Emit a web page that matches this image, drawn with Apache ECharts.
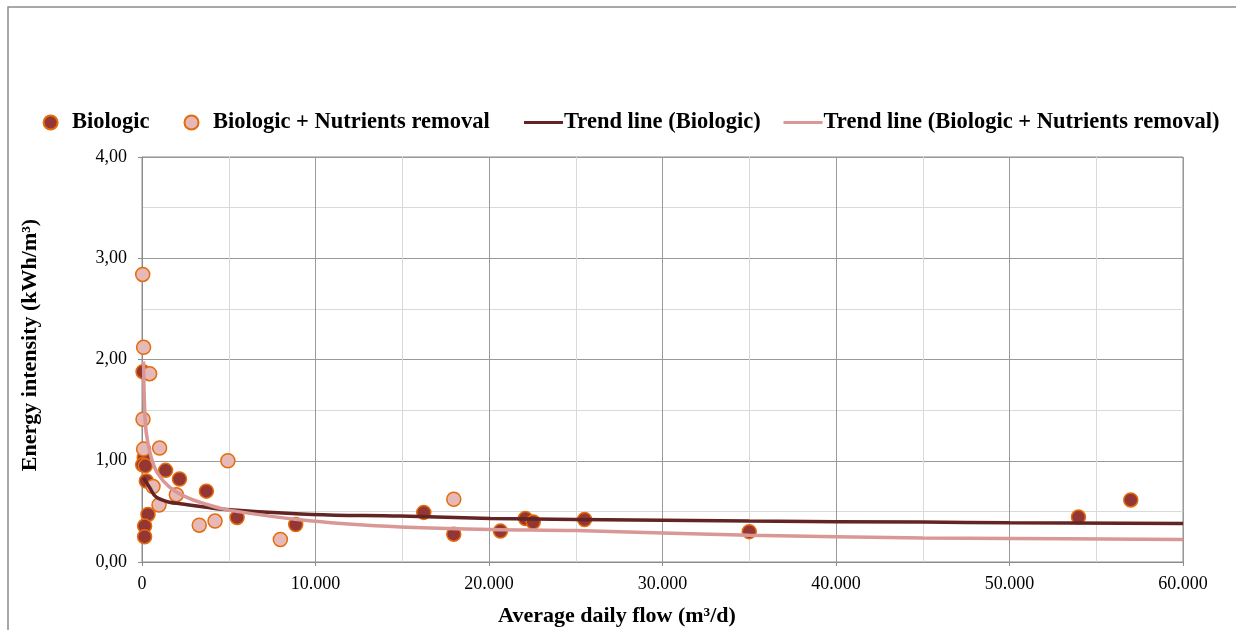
<!DOCTYPE html>
<html>
<head>
<meta charset="utf-8">
<script src="https://cdn.jsdelivr.net/npm/echarts@6/dist/echarts.min.js"></script>
<style>
html,body{margin:0;padding:0;background:#fff;}
#chart{width:1236px;height:630px;}
</style>
</head>
<body>
<div id="chart"></div>
<script>
// Series names
var seriesNames = ['Biologic', 'Biologic + Nutrients removal', 'Trend line (Biologic)', 'Trend line (Biologic + Nutrients removal)'];

// Biologic: [average daily flow m3/d, energy intensity kWh/m3]
var biologicPoints = [
  [60, 1.88], [130, 1.03], [40, 0.96], [190, 0.95], [1360, 0.905], [2160, 0.82],
  [250, 0.80], [3710, 0.70], [345, 0.47], [150, 0.355], [150, 0.25], [5480, 0.44],
  [8860, 0.37], [16240, 0.49], [17970, 0.275], [20660, 0.305], [22100, 0.43],
  [22550, 0.395], [25510, 0.42], [35000, 0.30], [53975, 0.444], [56990, 0.613]
];

// Biologic + Nutrients removal
var nutrientPoints = [
  [40, 2.84], [92, 2.12], [440, 1.86], [58, 1.41], [90, 1.115], [1015, 1.125],
  [4950, 1.00], [635, 0.745], [1980, 0.665], [980, 0.563], [3300, 0.364],
  [4210, 0.404], [7975, 0.222], [17970, 0.62]
];

// Trend line (Biologic)
var trendBiologic = [
  [90, 0.83], [440, 0.735], [825, 0.64], [1590, 0.59], [2210, 0.575], [3710, 0.54],
  [5090, 0.515], [9800, 0.47], [14900, 0.454], [20090, 0.43], [25000, 0.42],
  [35000, 0.404], [45000, 0.394], [50000, 0.387], [60000, 0.381]
];

// Trend line (Biologic + Nutrients removal)
var trendNutrients = [
  [90, 1.98], [150, 1.53], [250, 1.27], [535, 1.03], [920, 0.87], [1590, 0.74],
  [2555, 0.64], [3710, 0.57], [5090, 0.51], [9800, 0.404], [14900, 0.345],
  [20090, 0.322], [25000, 0.31], [35000, 0.265], [45000, 0.238], [50000, 0.232],
  [60000, 0.222]
];

// Axis ticks
var xTicks = { min: 0, max: 60000, interval: 10000 };
var yTicks = { min: 0, max: 4, interval: 1 };

var xTitle = 'Average daily flow (m\u00B3/d)';
var yTitle = 'Energy intensity (kWh/m\u00B3)';

var FONT = '"Liberation Serif", "Times New Roman", serif';
var DARK = '#943634', LIGHT = '#E6B9B8', RING = '#E46C0A';
var TREND_DARK = '#632523', TREND_LIGHT = '#D99795';

var chart = echarts.init(document.getElementById('chart'), null, {renderer: 'canvas'});

function legendAt(name, left, isLine, color) {
  var item = {name: name};
  if (isLine) { item.icon = 'rect'; item.itemStyle = {color: color}; }
  else { item.icon = 'circle'; }
  return {
    data: [item], left: left, top: 111, orient: 'horizontal', padding: 0,
    itemWidth: isLine ? 39 : 40, itemHeight: isLine ? 3 : 14, itemGap: 0,
    textStyle: {fontFamily: FONT, fontSize: 22.5, fontWeight: 'bold', color: '#000',
                padding: isLine ? [0, 0, 0, -4] : [0, 0, 0, -3.5]}
  };
}

var option = {
  backgroundColor: '#fff',
  animation: false,
  legend: [
    legendAt(seriesNames[0], 42.6, false),
    legendAt(seriesNames[1], 183.5, false),
    legendAt(seriesNames[2], 524, true, TREND_DARK),
    legendAt(seriesNames[3], 783.5, true, TREND_LIGHT)
  ],
  grid: {left: 142, right: 53, top: 157, bottom: 68, show: true, borderColor: '#8c8c8c', borderWidth: 1, containLabel: false},
  xAxis: {
    type: 'value', min: xTicks.min, max: xTicks.max, interval: xTicks.interval,
    axisLine: {show: true, lineStyle: {color: '#8c8c8c', width: 1}},
    axisTick: {show: true, inside: false, length: 4, lineStyle: {color: '#8c8c8c'}},
    minorTick: {show: false, splitNumber: 2},
    splitLine: {show: true, lineStyle: {color: '#999', width: 1}},
    minorSplitLine: {show: true, lineStyle: {color: '#d9d9d9', width: 1}},
    axisLabel: {
      margin: 13, fontFamily: FONT, fontSize: 18, color: '#000',
      formatter: function (v) { return v === 0 ? '0' : (v / 1000) + '.000'; }
    }
  },
  yAxis: {
    type: 'value', min: yTicks.min, max: yTicks.max, interval: yTicks.interval,
    axisLine: {show: true, lineStyle: {color: '#8c8c8c', width: 1}},
    axisTick: {show: true, inside: false, length: 4, lineStyle: {color: '#8c8c8c'}},
    minorTick: {show: false, splitNumber: 2},
    splitLine: {show: true, lineStyle: {color: '#999', width: 1}},
    minorSplitLine: {show: true, lineStyle: {color: '#d9d9d9', width: 1}},
    axisLabel: {
      margin: 15, fontFamily: FONT, fontSize: 18, color: '#000',
      formatter: function (v) { return v.toFixed(2).replace('.', ','); }
    }
  },
  graphic: [
    {type: 'rect', silent: true, z: 100, shape: {x: 8, y: 7, width: 1240, height: 650},
     style: {fill: 'none', stroke: '#8c8c8c', lineWidth: 1.5}},
    {type: 'text', x: 30, y: 345, rotation: Math.PI / 2, z: 100,
     style: {text: yTitle, font: 'bold 22px ' + FONT, fill: '#000', textAlign: 'center', textVerticalAlign: 'middle'}},
    {type: 'text', x: 617, y: 616, z: 100,
     style: {text: xTitle, font: 'bold 22px ' + FONT, fill: '#000', textAlign: 'center', textVerticalAlign: 'middle'}}
  ],
  series: [
    {
      name: seriesNames[0], type: 'scatter', data: biologicPoints, symbol: 'circle', symbolSize: 14, z: 2,
      itemStyle: {color: DARK, borderColor: RING, borderWidth: 1.5, opacity: 1}
    },
    {
      name: seriesNames[1], type: 'scatter', data: nutrientPoints, symbol: 'circle', symbolSize: 14, z: 3,
      itemStyle: {color: LIGHT, borderColor: RING, borderWidth: 1.5, opacity: 1}
    },
    {
      name: seriesNames[2], type: 'line', data: trendBiologic, symbol: 'none', smooth: 0.4, z: 4,
      lineStyle: {color: TREND_DARK, width: 3.5}, itemStyle: {color: TREND_DARK}
    },
    {
      name: seriesNames[3], type: 'line', data: trendNutrients, symbol: 'none', smooth: 0.4, z: 5,
      lineStyle: {color: TREND_LIGHT, width: 3.5}, itemStyle: {color: TREND_LIGHT}
    }
  ]
};
chart.setOption(option);
</script>
</body>
</html>
